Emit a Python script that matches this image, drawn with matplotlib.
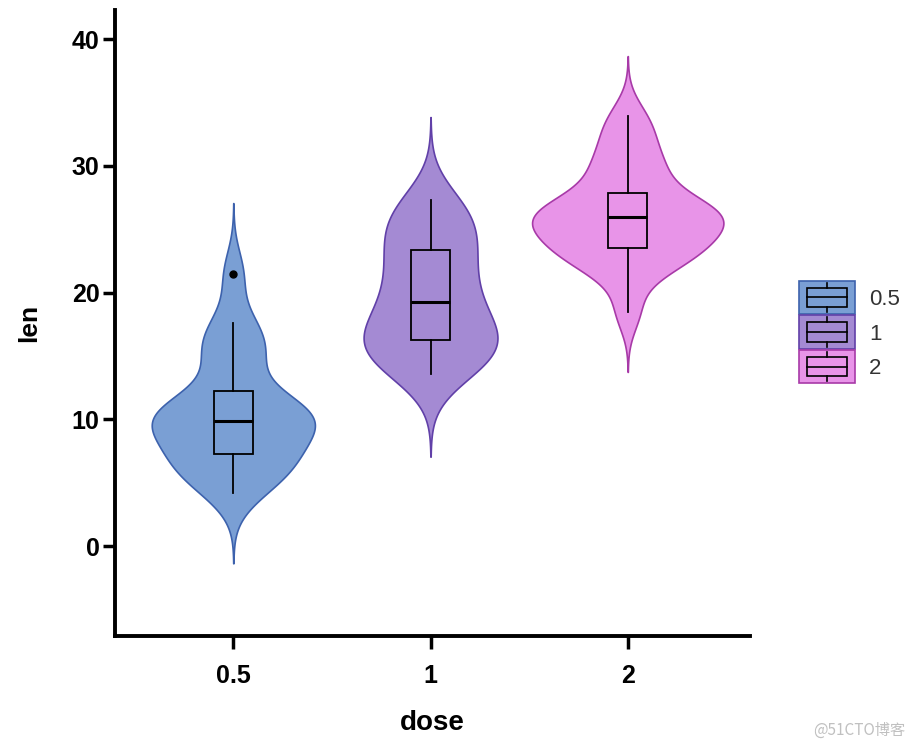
import numpy as np
import matplotlib
matplotlib.use("Agg")
from matplotlib import pyplot as plt
from matplotlib.patches import Rectangle

# ToothGrowth tooth length by vitamin C dose
doses = ["0.5", "1", "2"]
len_05 = [4.2, 11.5, 7.3, 5.8, 6.4, 10.0, 11.2, 11.2, 5.2, 7.0,
          15.2, 21.5, 17.6, 9.7, 14.5, 10.0, 8.2, 9.4, 16.5, 9.7]
len_1 = [16.5, 16.5, 15.2, 17.3, 22.5, 17.3, 13.6, 14.5, 18.8, 15.5,
         19.7, 23.3, 23.6, 26.4, 20.0, 25.2, 25.8, 21.2, 14.5, 27.3]
len_2 = [23.6, 18.5, 33.9, 25.5, 26.4, 32.5, 26.7, 21.5, 23.3, 29.5,
         25.5, 26.4, 22.4, 24.5, 24.8, 30.9, 26.4, 27.3, 29.4, 23.0]
groups = [len_05, len_1, len_2]

fills = ["#7a9fd4", "#a48ad3", "#e894e8"]
edges = ["#3d62ad", "#6140a8", "#a83aa8"]

plt.rcParams['font.family'] = ['Liberation Sans', 'DejaVu Sans']


def bw_nrd0(x):
    x = np.asarray(x)
    q1, q3 = np.percentile(x, [25, 75])
    lo = min(np.std(x, ddof=1), (q3 - q1) / 1.34)
    return 0.9 * lo * len(x) ** -0.2


def kde(x, n=512):
    x = np.asarray(x)
    bw = bw_nrd0(x)
    grid = np.linspace(x.min() - 3 * bw, x.max() + 3 * bw, n)
    d = np.exp(-0.5 * ((grid[:, None] - x[None, :]) / bw) ** 2).sum(axis=1)
    d /= len(x) * bw * np.sqrt(2 * np.pi)
    return grid, d


dens = [kde(g) for g in groups]
dmax = max(d.max() for _, d in dens)
vwidth = 0.97

fig = plt.figure(figsize=(9.16, 7.48), dpi=100)
ax = fig.add_axes([115 / 916, 112 / 748, 635 / 916, 626 / 748])

for i, (g, (yy, d)) in enumerate(zip(groups, dens)):
    pos = i + 1
    w = d / dmax * vwidth / 2
    ax.fill_betweenx(yy, pos - w, pos + w, facecolor=fills[i],
                     edgecolor=edges[i], linewidth=1.2, zorder=2)
    ax.boxplot(g, positions=[pos], widths=0.2, patch_artist=True,
               manage_ticks=False, zorder=3,
               boxprops=dict(facecolor="none", edgecolor="black", linewidth=1.3),
               whiskerprops=dict(color="black", linewidth=1.3),
               capprops=dict(linewidth=0),
               medianprops=dict(color="black", linewidth=2.2),
               flierprops=dict(marker="o", markersize=5, markerfacecolor="black",
                               markeredgecolor="black"))

ax.set_xlim(0.4, 3.62)
ax.set_ylim(-7.1, 42.3)
ax.set_xticks([1, 2, 3])
ax.set_xticklabels(doses)
ax.set_yticks([0, 10, 20, 30, 40])
for s in ["top", "right"]:
    ax.spines[s].set_visible(False)
for s in ["left", "bottom"]:
    ax.spines[s].set_linewidth(2.8)
ax.tick_params(width=2.5, length=9, labelsize=18)
ax.tick_params(axis="x", pad=11)
ax.tick_params(axis="y", pad=2)
for lab in ax.get_xticklabels() + ax.get_yticklabels():
    lab.set_fontweight("bold")
ax.set_xlabel("dose", fontsize=20, fontweight="bold", labelpad=16)
ax.set_ylabel("len", fontsize=19, fontweight="bold", labelpad=22)

# legend drawn by hand: violin-coloured keys with a small box glyph
lax = fig.add_axes([798 / 916, (748 - 384) / 748, 58 / 916, 104 / 748])
lax.set_xlim(0, 1)
lax.set_ylim(0, 3)
lax.axis("off")
for i, lab in enumerate(doses):
    y0 = 2 - i
    lax.add_patch(Rectangle((0.02, y0 + 0.02), 0.96, 0.96, facecolor=fills[i],
                            edgecolor=edges[i], linewidth=1.2))
    lax.add_patch(Rectangle((0.15, y0 + 0.22), 0.7, 0.56, facecolor="none",
                            edgecolor="black", linewidth=1.2))
    lax.plot([0.15, 0.85], [y0 + 0.5] * 2, color="black", lw=1.2)
    lax.plot([0.5, 0.5], [y0 + 0.08, y0 + 0.22], color="black", lw=1.2)
    lax.plot([0.5, 0.5], [y0 + 0.78, y0 + 0.92], color="black", lw=1.2)
    fig.text(869 / 916, (748 - (299 + 35 * i)) / 748, lab, fontsize=16,
             color="#333333", va="center", ha="left")

fig.text(0.988, 0.012, "@51CTO博客", fontsize=11, color="#c0c0c0", ha="right",
         va="bottom", family=["Noto Sans CJK SC", "DejaVu Sans"])

fig.savefig("out.png", dpi=100)
